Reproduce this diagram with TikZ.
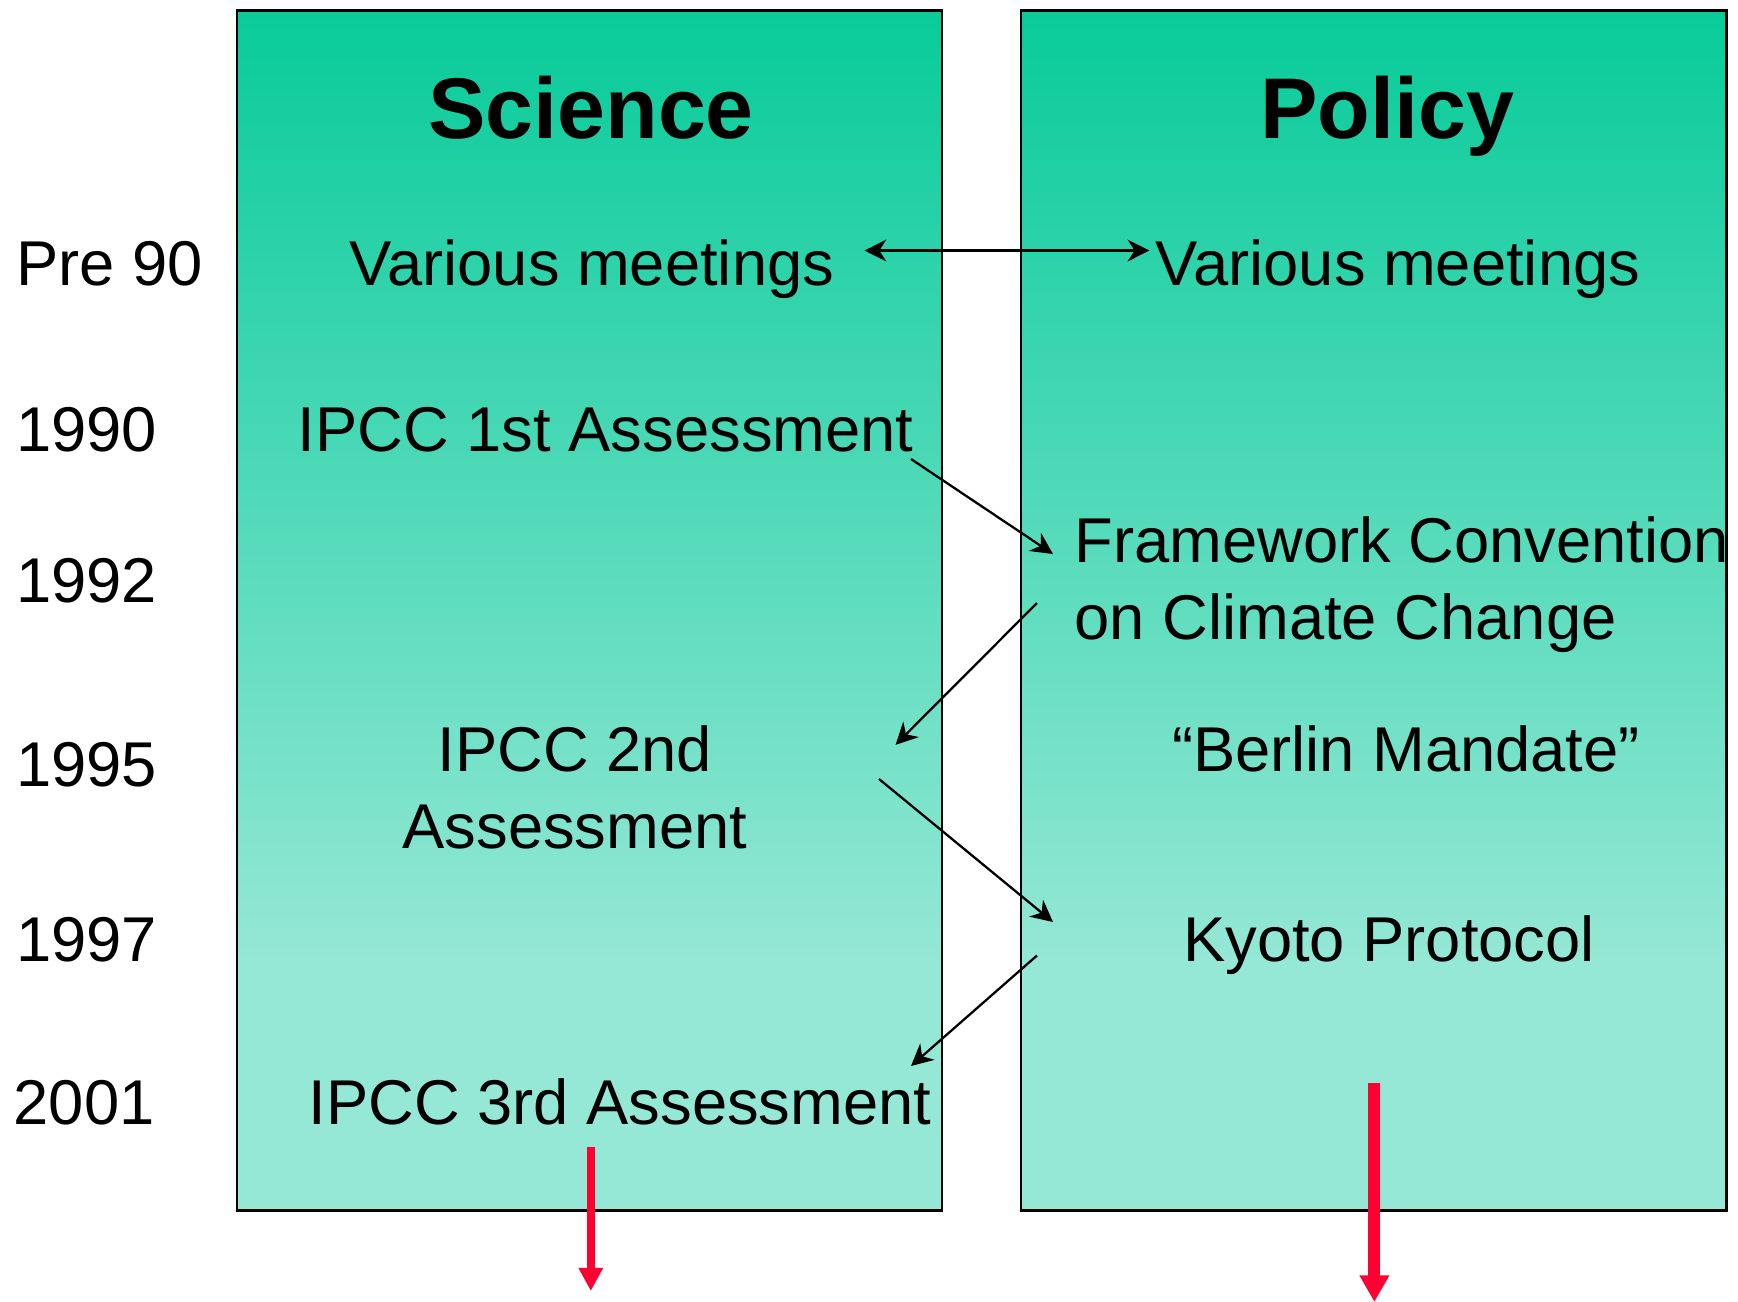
\documentclass[tikz,border=0pt]{standalone}
\usepackage{fontspec}
\setmainfont{Liberation Sans}
\usetikzlibrary{arrows.meta,calc}
\definecolor{boxtop}{RGB}{8,203,154}
\definecolor{boxbot}{RGB}{150,232,214}
\definecolor{trendred}{RGB}{255,0,51}
% vertical fade used for both columns (bottom colour holds over the lowest fifth)
\pgfdeclareverticalshading{colfade}{100bp}{color(0bp)=(boxbot); color(25bp)=(boxbot); color(35bp)=(boxbot); color(75bp)=(boxtop); color(100bp)=(boxtop)}

\begin{document}
\begin{tikzpicture}[x=0.01cm,y=-0.01cm,
  column/.style={draw=black, line width=0.85pt, shading=colfade},
  heading/.style={font=\fontsize{24.5}{30}\selectfont\bfseries, inner sep=0pt, anchor=base},
  entry/.style={font=\fontsize{18}{21.8}\selectfont, inner sep=0pt, anchor=base},
  year/.style={entry, anchor=base west},
  link/.style={line width=0.65pt, -{Stealth[length=6.2pt,width=6.2pt,inset=2pt]}},
  both/.style={line width=0.65pt, {Stealth[length=6.2pt,width=6.2pt,inset=2pt]}-{Stealth[length=6.2pt,width=6.2pt,inset=2pt]}}]

\useasboundingbox (0,0) rectangle (1738,1302);

% the two columns
\path[column] (237,10) rectangle (942,1210);
\path[column] (1021,10) rectangle (1726,1210);

% column headings
\node[heading] (sci) at (591,138.5) {Science};
\node[heading] (pol) at (1387,138.5) {Policy};

% time axis
\node[year] (y0) at (15.5,285) {Pre 90};
\node[year] (y1) at (15.5,451) {1990};
\node[year] (y2) at (15.5,602) {1992};
\node[year] (y3) at (15.5,786) {1995};
\node[year] (y4) at (15.5,961) {1997};
\node[year] (y5) at (13,1124) {2001};

% science column (two-line nodes sit on the baseline of their last line)
\node[entry] (s0) at (592,285) {Various meetings};
\node[entry] (s1) at (605.7,451) {IPCC 1st Assessment};
\node[entry, align=center] (s2) at (575,848) {IPCC 2nd\\Assessment};
\node[entry] (s3) at (620,1124) {IPCC 3rd Assessment};

% policy column
\node[entry] (p0) at (1398,285) {Various meetings};
\node[entry, anchor=base west, align=left] (p1) at (1074,639.5) {Framework Convention\\on Climate Change};
\node[entry] (p2) at (1406,771.5) {“Berlin Mandate”};
\node[entry] (p3) at (1389,961) {Kyoto Protocol};

% connector end points
\coordinate (a0s) at (864.5,250.5);
\coordinate (a0e) at (1149.4,250.5);
\coordinate (a1s) at (911,459);
\coordinate (a1e) at (1053,554);
\coordinate (a2s) at (1037,603);
\coordinate (a2e) at (895.6,744.8);
\coordinate (a3s) at (879,779);
\coordinate (a3e) at (1053,922);
\coordinate (a4s) at (1037,955.5);
\coordinate (a4e) at (911,1066);
\coordinate (t1s) at (590.8,1147);
\coordinate (t1e) at (590.8,1291);
\coordinate (t2s) at (1374.4,1083);
\coordinate (t2e) at (1374.4,1302);

% exchanges between science and policy
\draw[both] (a0s) -- (a0e);
\draw[link] (a1s) -- (a1e);
\draw[link] (a2s) -- (a2e);
\draw[link] (a3s) -- (a3e);
\draw[link] (a4s) -- (a4e);

% continuing trends
\draw[trendred, line width=2.3pt, -{Triangle[length=6.6pt,width=6.6pt]}] (t1s) -- (t1e);
\draw[trendred, line width=3.4pt, -{Triangle[length=7.6pt,width=8pt]}] (t2s) -- (t2e);
\end{tikzpicture}
\end{document}
